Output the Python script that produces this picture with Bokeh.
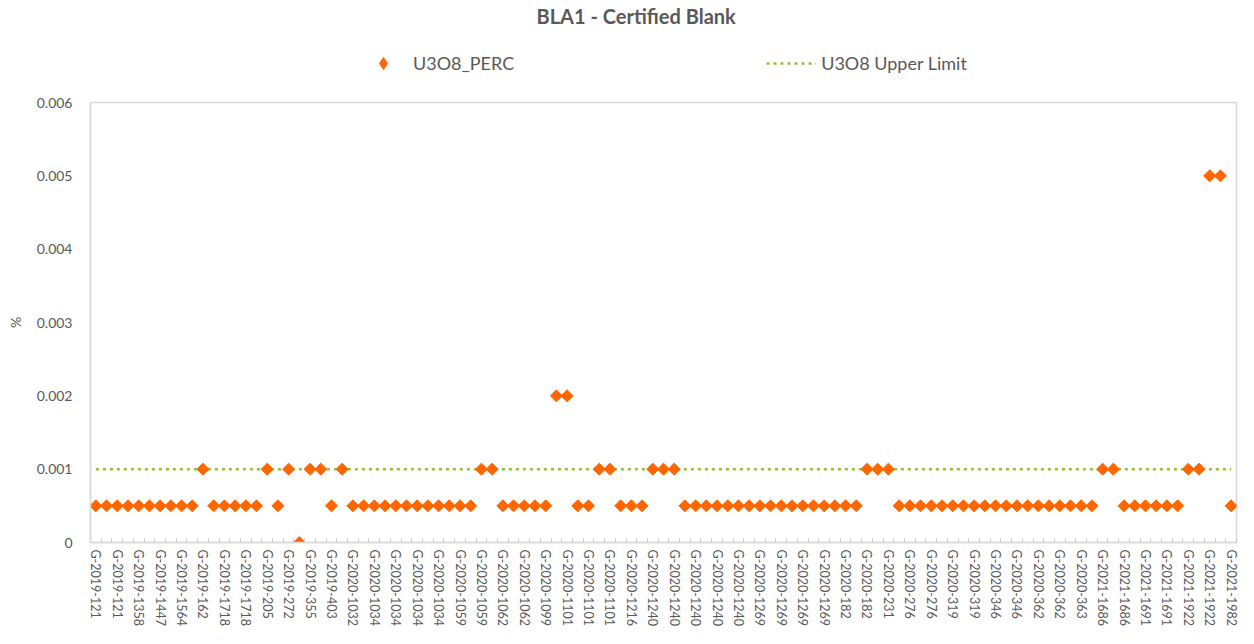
from bokeh.plotting import figure
from bokeh.layouts import column
from bokeh.models import FixedTicker, Legend, LegendItem, ColumnDataSource
from bokeh.embed import file_html
from bokeh.resources import INLINE

title_text = "BLA1 - Certified Blank"
series_name = "U3O8_PERC"
limit_name = "U3O8 Upper Limit"
y_label = "%"

# labels shown on every second category
tick_labels = [
    "G-2019-121", "G-2019-121", "G-2019-1358", "G-2019-1447", "G-2019-1564",
    "G-2019-162", "G-2019-1718", "G-2019-1718", "G-2019-205", "G-2019-272",
    "G-2019-355", "G-2019-403", "G-2020-1032", "G-2020-1034", "G-2020-1034",
    "G-2020-1034", "G-2020-1034", "G-2020-1059", "G-2020-1059", "G-2020-1062",
    "G-2020-1062", "G-2020-1099", "G-2020-1101", "G-2020-1101", "G-2020-1101",
    "G-2020-1216", "G-2020-1240", "G-2020-1240", "G-2020-1240", "G-2020-1240",
    "G-2020-1240", "G-2020-1269", "G-2020-1269", "G-2020-1269", "G-2020-1269",
    "G-2020-182", "G-2020-182", "G-2020-231", "G-2020-276", "G-2020-276",
    "G-2020-319", "G-2020-319", "G-2020-346", "G-2020-346", "G-2020-362",
    "G-2020-362", "G-2020-363", "G-2021-1686", "G-2021-1686", "G-2021-1691",
    "G-2021-1691", "G-2021-1922", "G-2021-1922", "G-2021-1982",
]

u3o8_perc = [
    0.0005, 0.0005, 0.0005, 0.0005, 0.0005, 0.0005, 0.0005, 0.0005, 0.0005, 0.0005,
    0.001, 0.0005, 0.0005, 0.0005, 0.0005, 0.0005, 0.001, 0.0005, 0.001, 0.0,
    0.001, 0.001, 0.0005, 0.001, 0.0005, 0.0005, 0.0005, 0.0005, 0.0005, 0.0005,
    0.0005, 0.0005, 0.0005, 0.0005, 0.0005, 0.0005, 0.001, 0.001, 0.0005, 0.0005,
    0.0005, 0.0005, 0.0005, 0.002, 0.002, 0.0005, 0.0005, 0.001, 0.001, 0.0005,
    0.0005, 0.0005, 0.001, 0.001, 0.001, 0.0005, 0.0005, 0.0005, 0.0005, 0.0005,
    0.0005, 0.0005, 0.0005, 0.0005, 0.0005, 0.0005, 0.0005, 0.0005, 0.0005, 0.0005,
    0.0005, 0.0005, 0.001, 0.001, 0.001, 0.0005, 0.0005, 0.0005, 0.0005, 0.0005,
    0.0005, 0.0005, 0.0005, 0.0005, 0.0005, 0.0005, 0.0005, 0.0005, 0.0005, 0.0005,
    0.0005, 0.0005, 0.0005, 0.0005, 0.001, 0.001, 0.0005, 0.0005, 0.0005, 0.0005,
    0.0005, 0.0005, 0.001, 0.001, 0.005, 0.005, 0.0005,
]

upper_limit_value = 0.001
y_ticks = [0, 0.001, 0.002, 0.003, 0.004, 0.005, 0.006]
y_tick_labels = ["0", "0.001", "0.002", "0.003", "0.004", "0.005", "0.006"]

n = len(u3o8_perc)
idx = list(range(n))
source = ColumnDataSource(dict(
    x=idx,
    perc=u3o8_perc,
    limit=[upper_limit_value] * n,
))

FONT = "Lato"
GREY = "#595959"
BORDER = "#D9D9D9"
ORANGE = "#FF6600"
GREEN = "#96BE37"
W = 1238

# ---------- header: title + legend ----------
head = figure(
    width=W, height=92, output_backend="svg", toolbar_location=None,
    x_axis_type=None, y_axis_type=None, x_range=(0, 1), y_range=(0, 1),
    min_border_left=0, min_border_right=0, min_border_top=0, min_border_bottom=0,
)
head.outline_line_color = None
head.xgrid.visible = False
head.ygrid.visible = False
head.title.text = title_text
head.title.align = "left"
head.title.offset = 446
head.title.text_font = FONT
head.title.text_font_size = "20px"
head.title.text_font_style = "bold"
head.title.text_color = GREY
head.title.standoff = 2

# legend swatches: one point each, kept outside the header's visible range
swatch_src = ColumnDataSource(dict(x=[-5, -6], y=[-5, -5]))
sw = head.scatter("x", "y", source=swatch_src, marker="diamond",
                  fill_color=ORANGE, line_color=ORANGE)
sl = head.line("x", "y", source=swatch_src, line_color=GREEN, line_width=2.5,
               line_dash="3 4")
legend = Legend(
    items=[LegendItem(label=series_name, renderers=[sw]),
           LegendItem(label=limit_name, renderers=[sl])],
    orientation="horizontal", location=(268, 14),
    glyph_width=50, glyph_height=30, label_standoff=5, spacing=252,
    padding=8, margin=0,
    border_line_color=None, background_fill_alpha=0,
    label_text_font=FONT, label_text_font_size="18px", label_text_color=GREY,
)
head.add_layout(legend, "center")

# ---------- main chart ----------
p = figure(
    width=W, height=536,
    output_backend="svg", toolbar_location=None,
    x_range=(-0.5, n - 0.5), y_range=(0, 0.006),
    min_border_left=90, min_border_right=2,
    min_border_bottom=86, min_border_top=10,
)
p.background_fill_color = "white"
p.border_fill_color = "white"
p.outline_line_color = BORDER
p.outline_line_width = 1.5
p.xgrid.visible = False
p.ygrid.visible = False

xa = p.xaxis[0]
xa.ticker = FixedTicker(ticks=idx[::2], minor_ticks=[i - 0.5 for i in range(n + 1)])
xa.major_label_overrides = {i * 2: lab for i, lab in enumerate(tick_labels)}
xa.major_label_orientation = "vertical"
xa.major_label_text_font = FONT
xa.major_label_text_font_size = "12.5px"
xa.major_label_text_color = GREY
xa.major_label_standoff = 7
xa.major_tick_in = 0
xa.major_tick_out = 0
xa.minor_tick_in = 4
xa.minor_tick_out = 0
xa.minor_tick_line_color = "#C8C8C8"
xa.axis_line_color = BORDER
xa.axis_line_width = 1.5

ya = p.yaxis[0]
ya.ticker = FixedTicker(ticks=y_ticks, minor_ticks=[])
ya.major_label_overrides = {t: s for t, s in zip(y_ticks, y_tick_labels)}
ya.major_label_text_font = FONT
ya.major_label_text_font_size = "14px"
ya.major_label_text_color = GREY
ya.major_label_standoff = 18
ya.major_tick_in = 0
ya.major_tick_out = 0
ya.minor_tick_line_color = None
ya.axis_line_color = BORDER
ya.axis_line_width = 1.5
ya.axis_label = y_label
ya.axis_label_text_font = FONT
ya.axis_label_text_font_size = "14px"
ya.axis_label_text_font_style = "normal"
ya.axis_label_text_color = GREY
ya.axis_label_standoff = 10

ln = p.line("x", "limit", source=source, line_color=GREEN, line_width=2.5,
            line_dash="3 4")
sc = p.scatter("x", "perc", source=source, marker="square", angle=0.785398,
               size=8.5, fill_color=ORANGE, line_color=ORANGE)

layout = column(head, p, spacing=0)
open("out.html", "w").write(file_html(layout, INLINE))
